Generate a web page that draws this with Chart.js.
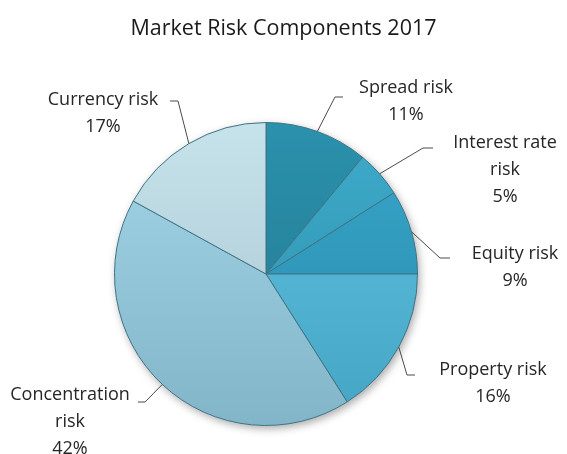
<!DOCTYPE html>
<html><head><meta charset="utf-8">
<script src="https://cdn.jsdelivr.net/npm/chart.js@4.4.0/dist/chart.umd.min.js"></script>
<style>html,body{margin:0;padding:0;background:#fff}#wrap{width:567px;height:454px;position:relative}</style>
</head><body><div id="wrap"><canvas id="c"></canvas></div>
<script>
const chartTitle = 'Market Risk Components 2017';
const categories = ['Spread risk', 'Interest rate risk', 'Equity risk', 'Property risk', 'Concentration risk', 'Currency risk'];
const labelLines = [['Spread risk'], ['Interest rate', 'risk'], ['Equity risk'], ['Property risk'], ['Concentration', 'risk'], ['Currency risk']];
const shares = [11, 5, 9, 16, 42, 17];

const colorsTop = ['#2b91ad', '#3eabca', '#38a7ca', '#62c3e1', '#a4d6e8', '#c6e2eb'];
const colorsBottom = ['#22768d', '#2d8eac', '#2889ac', '#44a4c4', '#82b5c8', '#a7c4cf'];

// label layout relative to pie centre: elbow, end of tick, text centre
const labelLayout = [
  {ex: 69, ey: -177, hx: 77, tx: 140, ty: -186},
  {ex: 157, ey: -126, hx: 167, tx: 239, ty: -131},
  {ex: 174, ey: -16, hx: 184, tx: 249, ty: -20},
  {ex: 141, ey: 101, hx: 149, tx: 227, ty: 96},
  {ex: -121, ey: 128, hx: -128, tx: -196, ty: 121},
  {ex: -88, ey: -173, hx: -96, tx: -163, ty: -174}
];

const FONT = '"Open Sans", sans-serif';

const decor = {
  id: 'decor',
  beforeDatasetsDraw(chart) {
    const meta = chart.getDatasetMeta(0);
    if (!meta.data.length) return;
    const a = meta.data[0];
    const ctx = chart.ctx;
    ctx.save();
    ctx.shadowColor = 'rgba(0,0,0,0.35)';
    ctx.shadowBlur = 9;
    ctx.shadowOffsetX = 2;
    ctx.shadowOffsetY = 3;
    ctx.fillStyle = '#ffffff';
    ctx.beginPath();
    ctx.arc(a.x, a.y, a.outerRadius, 0, Math.PI * 2);
    ctx.fill();
    ctx.restore();
  },
  afterDatasetsDraw(chart) {
    const meta = chart.getDatasetMeta(0);
    const ctx = chart.ctx;
    const total = shares.reduce((s, v) => s + v, 0);
    ctx.save();
    meta.data.forEach((arc, i) => {
      const L = labelLayout[i];
      const mid = (arc.startAngle + arc.endAngle) / 2;
      const r = arc.outerRadius;
      const sx = arc.x + Math.cos(mid) * r, sy = arc.y + Math.sin(mid) * r;
      ctx.strokeStyle = '#4a4a4a';
      ctx.lineWidth = 1;
      ctx.beginPath();
      ctx.moveTo(sx, sy);
      ctx.lineTo(arc.x + L.ex, arc.y + L.ey);
      ctx.lineTo(arc.x + L.hx, arc.y + L.ey);
      ctx.stroke();
      ctx.fillStyle = '#262626';
      ctx.font = '18px ' + FONT;
      ctx.textAlign = 'center';
      ctx.textBaseline = 'middle';
      const lines = labelLines[i].concat([Math.round(shares[i] / total * 100) + '%']);
      lines.forEach((t, k) => ctx.fillText(t, arc.x + L.tx, arc.y + L.ty + k * 27));
    });
    ctx.font = '21.5px ' + FONT;
    ctx.fillStyle = '#1a1a1a';
    ctx.textAlign = 'center';
    ctx.textBaseline = 'middle';
    ctx.fillText(chartTitle, chart.width / 2, 29);
    ctx.restore();
  }
};

function grad(context) {
  const i = context.dataIndex;
  const ca = context.chart.chartArea;
  if (!ca) return colorsTop[i];
  const g = context.chart.ctx.createLinearGradient(0, ca.top, 0, ca.bottom);
  g.addColorStop(0, colorsTop[i]);
  g.addColorStop(1, colorsBottom[i]);
  return g;
}

new Chart(document.getElementById('c'), {
  type: 'pie',
  data: {
    labels: categories,
    datasets: [{
      data: shares,
      backgroundColor: grad,
      borderColor: '#3f7384',
      borderWidth: 1
    }]
  },
  options: {
    responsive: true,
    maintainAspectRatio: false,
    animation: false,
    layout: {padding: {top: 122, bottom: 28, left: 114, right: 149}},
    plugins: {legend: {display: false}, tooltip: {enabled: false}, title: {display: false}}
  },
  plugins: [decor]
});
</script>
</body></html>
